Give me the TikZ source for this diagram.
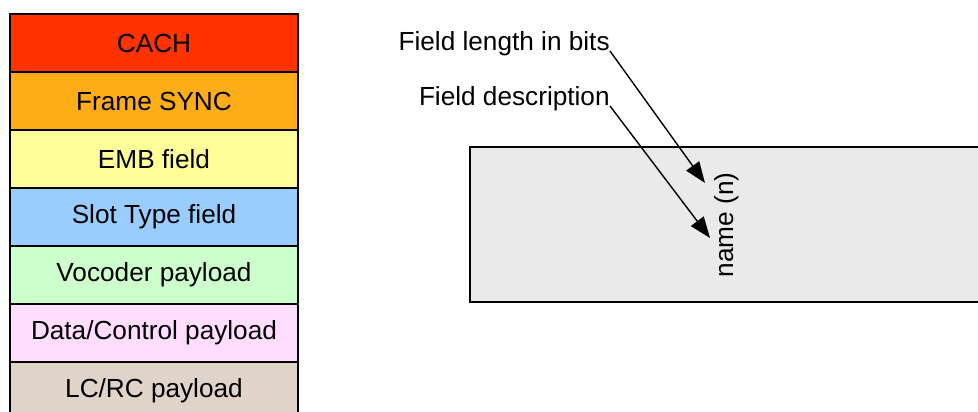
\documentclass[tikz,border=0pt]{standalone}
\usepackage{fontspec}
\setmainfont{Liberation Sans}
\usepackage{xcolor}
\usepackage{tikz}
\usetikzlibrary{arrows.meta,positioning}

\definecolor{cachred}{HTML}{FF3300}
\definecolor{syncorange}{HTML}{FFAD17}
\definecolor{embyellow}{HTML}{FFFF99}
\definecolor{slotblue}{HTML}{99CCFF}
\definecolor{vocgreen}{HTML}{CCFFCC}
\definecolor{datapink}{HTML}{FFDDFF}
\definecolor{lcrcbrown}{HTML}{DFD3CA}
\definecolor{fieldgray}{HTML}{EAEAEA}

\begin{document}
\begin{tikzpicture}[
    font=\fontsize{14.9}{18}\selectfont,
    field/.style={
        draw,
        line width=0.8pt,
        outer sep=0pt,
        align=center,
        minimum width=5.76cm,
        minimum height=1.16cm
    },
    line/.style={-{Triangle[length=12pt,width=9pt]}, line width=0.8pt}
]
\useasboundingbox (0,0) rectangle (19.56,8.22);
\clip (0,0) rectangle (19.56,8.22);

% --- Legend stack ---
\node[field, fill=cachred, anchor=north west] (cach) at (0.2,7.94) {CACH};
\node[field, fill=syncorange, below=0pt of cach] (sync) {Frame SYNC};
\node[field, fill=embyellow, below=0pt of sync] (emb) {EMB field};
\node[field, fill=slotblue, below=0pt of emb] (slot) {Slot Type field};
\node[field, fill=vocgreen, below=0pt of slot] (voc) {Vocoder payload};
\node[field, fill=datapink, below=0pt of voc] (data) {Data/Control payload};
\node[field, fill=lcrcbrown, below=0pt of data] (lcrc) {LC/RC payload};

% --- Example field ---
\node[field, fill=fieldgray, anchor=north west, minimum width=11cm,
      minimum height=3.1cm] (box) at (9.4,5.28) {};
\node[rotate=90] (name) at (14.54,3.72) {name (n)};

% --- Labels ---
\node[anchor=base east, inner sep=0pt] (lenlbl) at (12.2,7.2) {Field length in bits};
\node[anchor=base east, inner sep=0pt] (desclbl) at (12.2,6.1) {Field description};
\coordinate (lentip) at (14.1,4.56);
\coordinate (desctip) at (14.2,3.46);

% --- Connections ---
\draw[line] (lenlbl.base east) -- (lentip);
\draw[line] (desclbl.base east) -- (desctip);

\end{tikzpicture}
\end{document}
